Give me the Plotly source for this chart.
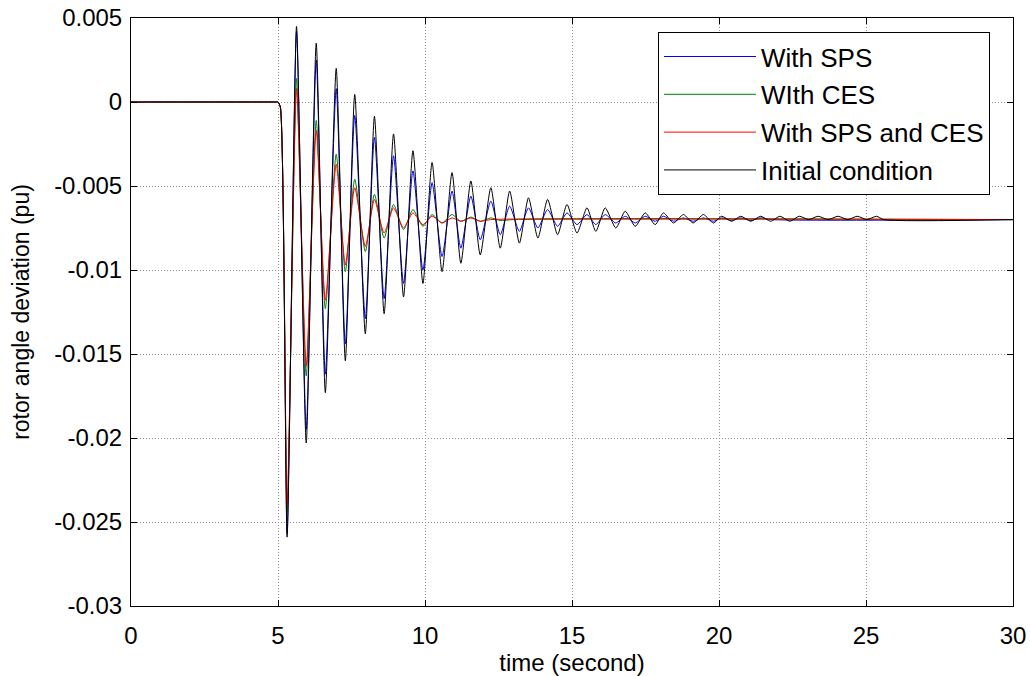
import plotly.graph_objects as go

# ---------------- data ----------------
onset_t = [0.0, 4.9, 5.0, 5.08]
onset_v = [0.0, 0.0, 0.0, -0.0003]

# times of successive troughs / peaks of the oscillation (s)
t_ext = [5.31, 5.63, 5.96, 6.30, 6.61, 6.98, 7.29, 7.61, 7.97, 8.28,
         8.61, 8.93, 9.27, 9.59, 9.93, 10.24, 10.58, 10.92, 11.22, 11.56,
         11.88, 12.24, 12.56, 12.88, 13.21, 13.52, 13.84, 14.17, 14.51, 14.83,
         15.17, 15.51, 15.81, 16.13, 16.49, 16.81, 17.15, 17.49, 17.83, 18.11,
         18.45, 18.79, 19.12, 19.47, 19.81, 20.09, 20.43, 20.74, 21.08, 21.42,
         21.76, 22.07, 22.41, 22.73, 23.05, 23.37, 23.71, 24.05, 24.38, 24.70,
         25.03, 25.36]

init_ext = [-0.0259, 0.0045, -0.0203, 0.0035, -0.0173, 0.0020, -0.0154, 0.00045, -0.0138, -0.00085,
            -0.0126, -0.0019, -0.0116, -0.0029, -0.0108, -0.0036, -0.0101, -0.0042, -0.0096, -0.0047,
            -0.0091, -0.0051, -0.0087, -0.0053, -0.0084, -0.0057, -0.0081, -0.0058, -0.0079, -0.0061,
            -0.0078, -0.0063, -0.0077, -0.0063, -0.0075, -0.0065, -0.0074, -0.0066, -0.0073, -0.0066,
            -0.0072, -0.0067, -0.0072, -0.0067, -0.0072, -0.0068, -0.0071, -0.0068, -0.0071, -0.0068,
            -0.0071, -0.0068, -0.0071, -0.0068, -0.0070, -0.0068, -0.0070, -0.0068, -0.0070, -0.0068,
            -0.0070, -0.0068]
init_tail_t = [25.60, 30.0]
init_tail_v = [-0.0070, -0.0070]

sps_ext = [-0.0257, 0.0042, -0.0195, 0.0025, -0.0162, 0.0008, -0.0144, -0.0008, -0.0129, -0.0021,
           -0.0117, -0.0032, -0.0108, -0.0041, -0.0100, -0.0048, -0.0092, -0.0053, -0.0087, -0.0056,
           -0.0082, -0.0059, -0.0079, -0.0062, -0.0077, -0.0063, -0.0075, -0.0064, -0.0074, -0.0066,
           -0.0073, -0.0067, -0.0073, -0.0067, -0.0072, -0.0068, -0.0072, -0.0068, -0.0071, -0.0068,
           -0.0071, -0.0069, -0.0071, -0.0069, -0.0071, -0.0069, -0.00705, -0.0069, -0.00705, -0.0069]
sps_tail_t = [21.80, 30.0]
sps_tail_v = [-0.0070, -0.0070]

ces_ext = [-0.0244, 0.0014, -0.0163, -0.0011, -0.0123, -0.0031, -0.0101, -0.0046, -0.0089, -0.0055,
           -0.0081, -0.0061, -0.0076, -0.0064, -0.0074, -0.0067, -0.0072, -0.0067, -0.0071, -0.00685,
           -0.0071, -0.0069, -0.00705]
ces_tail_t = [13.0, 30.0]
ces_tail_v = [-0.0070, -0.0070]

both_ext = [-0.0240, 0.0008, -0.0157, -0.0017, -0.0118, -0.0037, -0.0097, -0.0051, -0.0086, -0.0058,
            -0.0078, -0.0063, -0.0075, -0.0066, -0.0073, -0.0068, -0.0072, -0.0069, -0.0071, -0.0069,
            -0.0071, -0.0070]
both_tail_t = [30.0]
both_tail_v = [-0.0070]

series_names = ["With SPS", "WIth CES", "With SPS and CES", "Initial condition"]
series_colors = ["#0000ff", "#008000", "#ff0000", "#000000"]

x_ticks = [0, 5, 10, 15, 20, 25, 30]
y_ticks = [0.005, 0, -0.005, -0.01, -0.015, -0.02, -0.025, -0.03]
y_ticktext = ["0.005", "0", "-0.005", "-0.01", "-0.015", "-0.02", "-0.025", "-0.03"]


def build(ext_vals, tail_t, tail_v):
    n = len(ext_vals)
    return onset_t + t_ext[:n] + tail_t, onset_v + ext_vals + tail_v


series = [
    build(sps_ext, sps_tail_t, sps_tail_v),
    build(ces_ext, ces_tail_t, ces_tail_v),
    build(both_ext, both_tail_t, both_tail_v),
    build(init_ext, init_tail_t, init_tail_v),
]

FONT = "Liberation Sans, Arial, sans-serif"

fig = go.Figure()
for i, ((tx, vy), name, col) in enumerate(zip(series, series_names, series_colors)):
    fig.add_trace(go.Scatter(x=tx, y=vy, mode="lines", name=name,
                             line=dict(color=col, width=1, shape="spline", smoothing=0.6),
                             legendgroup=f"g{i}"))

axis_common = dict(
    showline=True, linecolor="black", linewidth=1, mirror="ticks",
    ticks="inside", ticklen=6, tickcolor="black", tickwidth=1,
    showgrid=True, gridcolor="#8c8c8c", griddash="1px,2px", gridwidth=1,
    zeroline=False, automargin=False,
    tickfont=dict(family=FONT, size=24, color="black"),
)

fig.update_layout(
    width=1030, height=676,
    margin=dict(l=131, r=17, t=18, b=70, autoexpand=False),
    paper_bgcolor="white", plot_bgcolor="white",
    font=dict(family=FONT, size=24, color="black"),
    showlegend=True,
    legend=dict(
        x=0.5975, y=0.976, xanchor="left", yanchor="top",
        bgcolor="white", bordercolor="black", borderwidth=1,
        font=dict(family=FONT, size=26, color="black"),
        itemwidth=92, tracegroupgap=1, entrywidth=236,
    ),
    xaxis=dict(range=[0, 30], tickvals=x_ticks, ticklabelstandoff=8,
               title=dict(text="time (second)", font=dict(family=FONT, size=24), standoff=6),
               **axis_common),
    yaxis=dict(range=[-0.03, 0.005], tickvals=y_ticks, ticktext=y_ticktext, ticklabelstandoff=3,
               title=dict(text="rotor angle deviation (pu)", font=dict(family=FONT, size=23), standoff=18),
               **axis_common),
)

fig.write_html("out.html", config={"displayModeBar": False},
               post_script="document.body.style.margin='0px';")
